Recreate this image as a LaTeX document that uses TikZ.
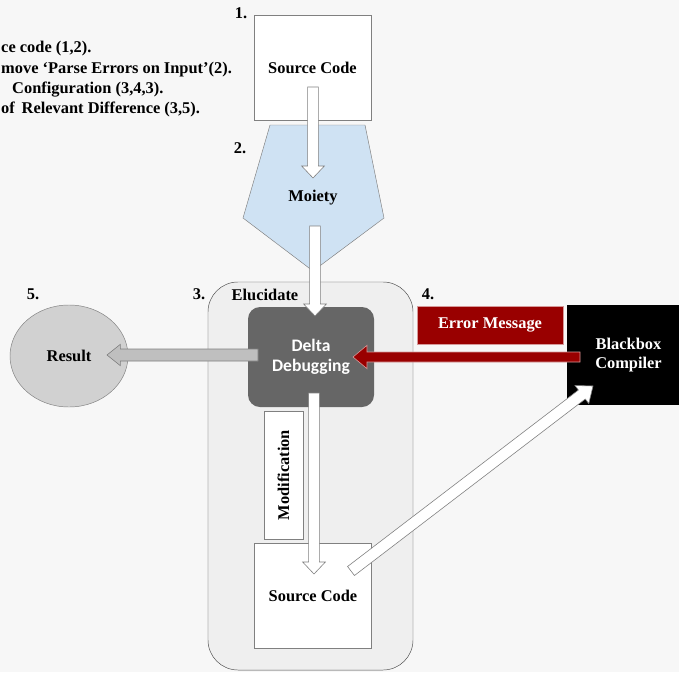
\documentclass[tikz,border=0pt]{standalone}
\usepackage{fontspec}
\setmainfont{Liberation Serif}
\newfontfamily\deltafont{Carlito}
\usetikzlibrary{calc,shapes.geometric}

\definecolor{bgcol}{HTML}{F7F7F7}
\definecolor{boxcol}{HTML}{EFEFEF}
\definecolor{moietycol}{HTML}{CFE2F3}
\definecolor{deltacol}{HTML}{666666}
\definecolor{errcol}{HTML}{990000}
\definecolor{edgecol}{HTML}{808080}

\tikzstyle{invisible} = [outer sep=0,inner sep=0,minimum size=0]
\tikzstyle{lbl} = [font=\bfseries\fontsize{14}{16}\selectfont]
\tikzstyle{steplbl} = [lbl, anchor=west, inner xsep=0]
\tikzstyle{codebox} = [lbl, draw=edgecol, fill=white, minimum width=3.52cm, minimum height=3.15cm]
\tikzstyle{whitearrow} = [fill=white, draw=edgecol, line width=0.5pt]

% block arrow: [style]{from}{to}{half shaft}{half head}{head length}
\newcommand{\fatarrow}[6][]{%
  \coordinate (hb) at ($(#3)!#6!(#2)$);
  \draw[#1] ($(#2)!#4!90:(#3)$) -- ($(hb)!#4!90:(#3)$) -- ($(hb)!#5!90:(#3)$)
    -- (#3) -- ($(hb)!#5!-90:(#3)$) -- ($(hb)!#4!-90:(#3)$) -- ($(#2)!#4!-90:(#3)$) -- cycle;
}

\begin{document}
\begin{tikzpicture}[x=0.03cm,y=-0.03cm]

\fill[bgcol] (0,0) rectangle (679,672);
\useasboundingbox (0,0) rectangle (679,672);

% STEPS
\node[steplbl] (step1) at (1,49) {ce code (1,2).};
\node[steplbl] (step2) at (1,70) {move ‘Parse Errors on Input’(2).};
\node[steplbl] (step3) at (12,90) {Configuration (3,4,3).};
\node[steplbl] (step4) at (1,109) {of\, Relevant Difference (3,5).};

% ELUCIDATE
\node[draw=black!70, fill=boxcol, rounded corners=0.9cm, minimum width=6.15cm, minimum height=11.64cm] (elucidate) at (310.5,476) {};
\node[lbl] (elulbl) at (265,295) {Elucidate};

% BOXES
\node[codebox] (src1) at (312.5,67.5) {Source Code};
\draw[draw=edgecol, fill=moietycol] (270,125) -- (365,125) -- (384,218) -- (313,271) -- (243,218) -- cycle;
\node[lbl] (moiety) at (313,198) {Moiety};

\node[fill=deltacol, rounded corners=0.36cm, minimum width=3.78cm, minimum height=3.0cm, text=white,
      align=center, font=\deltafont\bfseries\fontsize{15}{17.5}\selectfont] (delta) at (311,357) {Delta\\Debugging};

\node[ellipse, draw=edgecol, fill=black!18, lbl, minimum width=3.54cm, minimum height=3.06cm] (result) at (69,356) {Result};

\node[fill=errcol, draw=errcol!40!white, text=white, lbl, minimum width=4.38cm, minimum height=1.14cm] (errmsg) at (490,325) {Error Message};

\node[fill=black, text=white, lbl, align=center, minimum width=3.69cm, minimum height=3.0cm] (blackbox) at (628.5,355) {Blackbox\\Compiler};

\node[draw=edgecol, fill=white, lbl, rotate=90, minimum width=3.84cm, minimum height=1.17cm] (modif) at (283.5,475) {Modification};

\node[codebox] (src2) at (313,595.5) {Source Code};

% NUMBERS
\node[lbl] (n1) at (241,13) {1.};
\node[lbl] (n2) at (240,148) {2.};
\node[lbl] (n3) at (199,294) {3.};
\node[lbl] (n4) at (428,294) {4.};
\node[lbl] (n5) at (33,294) {5.};

% ARROWS
\coordinate (a1s) at (313,87);
\coordinate (a1e) at (313,178);
\fatarrow[whitearrow]{a1s}{a1e}{0.16cm}{0.34cm}{0.36cm}

\coordinate (a2s) at (315,226);
\coordinate (a2e) at (315,316);
\fatarrow[whitearrow]{a2s}{a2e}{0.16cm}{0.34cm}{0.36cm}

\coordinate (a3s) at (314,393);
\coordinate (a3e) at (314,574);
\fatarrow[whitearrow]{a3s}{a3e}{0.16cm}{0.34cm}{0.36cm}

\coordinate (a4s) at (258,355);
\coordinate (a4e) at (107,355);
\fatarrow[fill=black!25, draw=edgecol, line width=0.5pt]{a4s}{a4e}{0.18cm}{0.32cm}{0.4cm}

\coordinate (a5s) at (580,357);
\coordinate (a5e) at (353,357);
\fatarrow[fill=errcol, draw=errcol!40!white, line width=0.5pt]{a5s}{a5e}{0.15cm}{0.35cm}{0.42cm}

\coordinate (a6s) at (351,571);
\coordinate (a6e) at (593,386);
\fatarrow[whitearrow]{a6s}{a6e}{0.17cm}{0.34cm}{0.42cm}

\end{tikzpicture}
\end{document}
